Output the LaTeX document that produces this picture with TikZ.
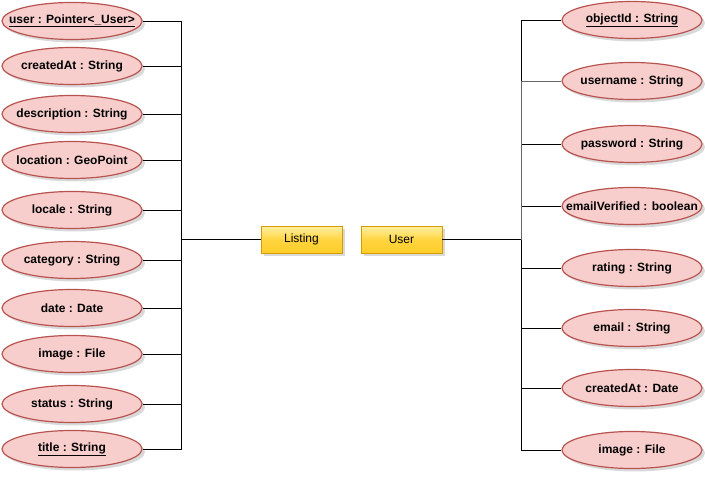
\documentclass[tikz,border=0pt]{standalone}
\usepackage{fontspec}
\setmainfont{Liberation Sans}
\usetikzlibrary{shapes.geometric,shadows}
\definecolor{attrfill}{HTML}{F8CECC}
\definecolor{attrline}{HTML}{B85450}
\definecolor{entline}{HTML}{D79B00}
\definecolor{enttop}{HTML}{FFF0A0}
\definecolor{entbot}{HTML}{FFCD28}
\tikzset{
  attr/.style={ellipse, draw=attrline, fill=attrfill, line width=1.2pt,
    minimum width=140pt, minimum height=37pt, inner sep=0pt,
    drop shadow={shadow xshift=3pt, shadow yshift=-3pt, fill=black, opacity=0.15},
    label={[attrtext]center:#1}},
  attrtext/.style={inner sep=0pt, font=\fontsize{12}{14}\selectfont\bfseries},
  entity/.style={rectangle, draw=entline, line width=0.8pt,
    top color=enttop, bottom color=entbot, middle color=entbot!80!enttop,
    minimum width=81pt, minimum height=27pt, inner sep=0pt,
    font=\fontsize{12}{14}\selectfont,
    drop shadow={shadow xshift=3pt, shadow yshift=-3pt, fill=black, opacity=0.15}},
  conn/.style={draw=black, line width=0.9pt}
}
\begin{document}
\begin{tikzpicture}[x=1pt,y=-1pt]
\useasboundingbox (0,0) rectangle (705,478);
% entities
\node[entity] (listing) at (301.5,239.7) {Listing};
\node[entity] (user) at (401.5,239.7) {User};
% junctions
\coordinate (jL) at (181,239.7);
\coordinate (jR) at (521,239.7);
% left attributes
\node[attr={\underline{user : Pointer<\_User>}}] (l1) at (72,21) {};
\node[attr={createdAt : String}] (l2) at (72,66) {};
\node[attr={description : String}] (l3) at (72,114) {};
\node[attr={location : GeoPoint}] (l4) at (72,160) {};
\node[attr={locale : String}] (l5) at (72,210) {};
\node[attr={category : String}] (l6) at (72,260) {};
\node[attr={date : Date}] (l7) at (72,308) {};
\node[attr={image : File}] (l8) at (72,354) {};
\node[attr={status : String}] (l9) at (72,404) {};
\node[attr={\underline{title : String}}] (l10) at (72,449) {};
% right attributes
\node[attr={\underline{objectId : String}}] (r1) at (632,20) {};
\node[attr={username : String}] (r2) at (632,81) {};
\node[attr={password : String}] (r3) at (632,144) {};
\node[attr={emailVerified : boolean}] (r4) at (632,206) {};
\node[attr={rating : String}] (r5) at (632,268) {};
\node[attr={email : String}] (r6) at (632,328) {};
\node[attr={createdAt : Date}] (r7) at (632,388) {};
\node[attr={image : File}] (r8) at (632,450) {};
% connectors
\foreach \n in {l1,l2,l3,l4,l5,l6,l7,l8,l9,l10}
  \draw[conn] (listing.west) -- (jL) |- (\n.east);
\foreach \n in {r1,r3,r4,r5,r6,r7,r8}
  \draw[conn] (user.east) -- (jR) |- (\n.west);
\draw[conn, draw=black!60] (jR) |- (r2.west);
\end{tikzpicture}
\end{document}
